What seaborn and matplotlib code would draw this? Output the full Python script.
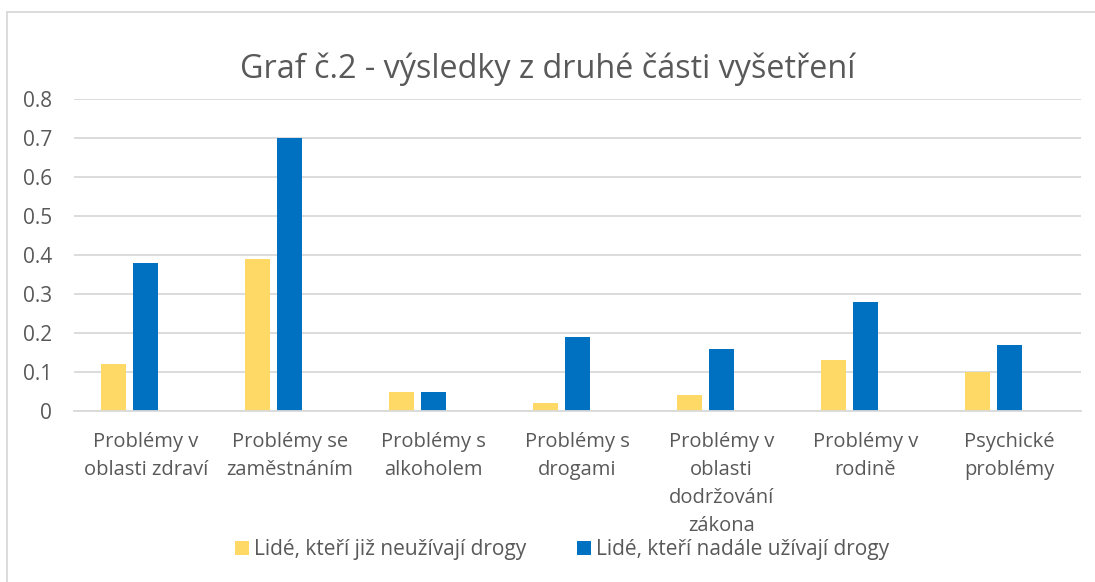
"""
Graf č.2 - grouped bar chart of the second part of the examination.
"""

import matplotlib
matplotlib.use("Agg")
import matplotlib.pyplot as plt
from matplotlib.lines import Line2D
from matplotlib.patches import Patch
import pandas as pd
import seaborn as sns

# Data
categories = [
    "Problémy v\noblasti zdraví",
    "Problémy se\nzaměstnáním",
    "Problémy s\nalkoholem",
    "Problémy s\ndrogami",
    "Problémy v\noblasti\ndodržování\nzákona",
    "Problémy v\nrodině",
    "Psychické\nproblémy",
]
series_names = [
    "Lidé, kteří již neužívají drogy",
    "Lidé, kteří nadále užívají drogy",
]
former_users = [0.12, 0.39, 0.05, 0.02, 0.04, 0.13, 0.10]
current_users = [0.38, 0.70, 0.05, 0.19, 0.16, 0.28, 0.17]
y_ticks = [0, 0.1, 0.2, 0.3, 0.4, 0.5, 0.6, 0.7, 0.8]
y_tick_labels = ["0", "0.1", "0.2", "0.3", "0.4", "0.5", "0.6", "0.7", "0.8"]
title = "Graf č.2 - výsledky z druhé části vyšetření"

colors = ["#FFD966", "#0070C0"]
text_color = "#595959"
grid_color = "#D9D9D9"

sns.set_style("white")
plt.rcParams["font.family"] = ["Open Sans", "DejaVu Sans"]

df = pd.DataFrame({
    "Kategorie": categories * 2,
    "Skupina": [series_names[0]] * len(categories) + [series_names[1]] * len(categories),
    "Hodnota": former_users + current_users,
})

# Excel chart reserves a third (empty) slot in each group
empty_slot = "_empty"
hue_order = series_names + [empty_slot]
palette = {series_names[0]: colors[0], series_names[1]: colors[1], empty_slot: "white"}

fig = plt.figure(figsize=(10.95, 5.82), dpi=100)
ax = fig.add_axes([74 / 1095, 1 - 411 / 582, (1081 - 74) / 1095, (411 - 99) / 582])

sns.barplot(
    data=df, x="Kategorie", y="Hodnota", hue="Skupina",
    order=categories, hue_order=hue_order, palette=palette, saturation=1,
    width=0.667, gap=0.22, legend=False, ax=ax,
    edgecolor="none", linewidth=0,
)

ax.set_ylim(0, 0.8)
ax.set_xlim(-0.5, len(categories) - 0.5)
ax.set_yticks(y_ticks)
ax.set_yticklabels(y_tick_labels)
ax.set_xlabel("")
ax.set_ylabel("")
ax.yaxis.grid(True, color=grid_color, linewidth=1.3)
ax.set_axisbelow(True)
for side in ["top", "right", "left"]:
    ax.spines[side].set_visible(False)
ax.spines["bottom"].set_color(grid_color)
ax.spines["bottom"].set_linewidth(1.3)
ax.tick_params(axis="both", length=0, colors=text_color)
ax.tick_params(axis="y", pad=16, labelsize=15)
ax.tick_params(axis="x", pad=15, labelsize=14.5)
for lbl in ax.get_xticklabels():
    lbl.set_linespacing(1.53)

fig.text(0.5, 1 - 69 / 582, title, ha="center", va="center",
         fontsize=23.3, color=text_color)

handles = [Patch(facecolor=c, edgecolor="none") for c in colors]
fig.legend(handles, series_names, loc="center", bbox_to_anchor=(562 / 1095, 1 - 550 / 582),
           ncol=2, frameon=False, fontsize=15, labelcolor=text_color,
           handlelength=0.67, handleheight=0.67, handletextpad=0.25, columnspacing=2.4)

# light chart-area border (only top and left edges visible in the crop)
fig.add_artist(Line2D([7 / 1095, 1], [1 - 12 / 582, 1 - 12 / 582], color=grid_color, lw=1.3))
fig.add_artist(Line2D([7 / 1095, 7 / 1095], [0, 1 - 12 / 582], color=grid_color, lw=1.3))

plt.savefig("out.png", dpi=100)
plt.close()
